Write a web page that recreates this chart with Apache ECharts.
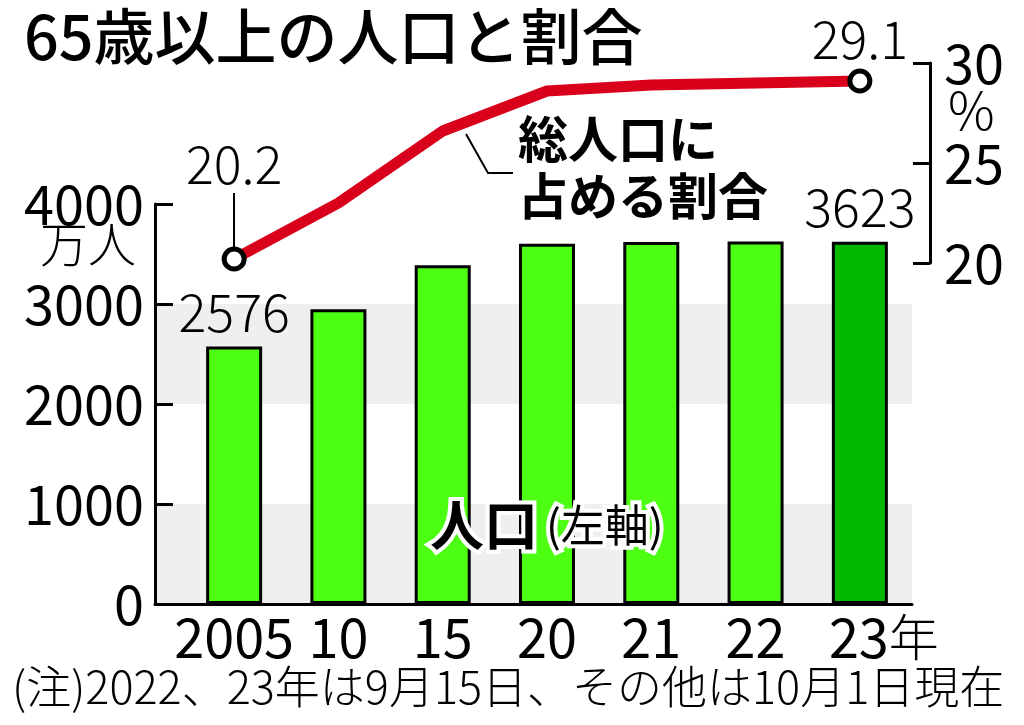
<!DOCTYPE html>
<html>
<head>
<meta charset="utf-8">
<script src="https://cdn.jsdelivr.net/npm/echarts@6/dist/echarts.min.js"></script>
<style>
  html, body { margin: 0; padding: 0; background: #fff; }
  #chart { width: 1024px; height: 725px; }
</style>
</head>
<body>
<div id="chart"></div>
<script>
const FONT = 'Noto Sans CJK JP';

// 年（2005年, 10年, ... 23年）
const years = ['2005', '10', '15', '20', '21', '22', '23'];
// 65歳以上の人口（万人）
const population = [2576, 2948, 3387, 3603, 3621, 3624, 3623];
// 総人口に占める割合（%）
const share = [20.2, 23.0, 26.6, 28.6, 28.9, 29.0, 29.1];

// axis ranges
const leftAxis = { min: 0, max: 4000, step: 1000 };
const rightAxis = { min: 20, max: 30, step: 5 };

const GREEN = '#4dff13';
const DARK_GREEN = '#00b800';
const RED = '#d8001b';

const chart = echarts.init(document.getElementById('chart'));

const last = years.length - 1;

const barData = population.map((v, i) => {
    const item = { value: v };
    if (i === last) item.itemStyle = { color: DARK_GREEN };
    if (i === 0 || i === last) item.label = { show: true };
    return item;
});

const lineData = share.map((v, i) => {
    const edge = i === 0 || i === last;
    return {
        value: v,
        symbol: edge ? 'circle' : 'none',
        label: { show: edge, distance: i === 0 ? 56 : 3 },
    };
});

const option = {
    animation: false,
    textStyle: { fontFamily: FONT },
    grid: [
        { left: 182, right: 112, top: 204, bottom: 121, outerBoundsMode: 'none' },
        { left: 155, right: 112, top: 204, bottom: 121, outerBoundsMode: 'none' },
        { left: 182, right: 112, top: 63, height: 200, outerBoundsMode: 'none' },
    ],
    xAxis: [
        {
            gridIndex: 0,
            type: 'category',
            data: years,
            axisLine: { show: false },
            axisTick: { show: false },
            axisLabel: {
                color: '#000',
                fontSize: 54,
                fontFamily: FONT,
                margin: 6,
                interval: 0,
                formatter: (v) => (v === years[last] ? '{p|}' + v + '{n|年}' : v),
                rich: {
                    p: { width: 48 },
                    n: { fontSize: 50, fontFamily: FONT, color: '#000', fontWeight: 300 },
                },
            },
        },
        {
            gridIndex: 1,
            type: 'value',
            min: 0,
            max: 1,
            axisLine: { show: true, lineStyle: { color: '#000', width: 3 } },
            axisTick: { show: false },
            axisLabel: { show: false },
            splitLine: { show: false },
        },
        {
            gridIndex: 2,
            type: 'category',
            data: years,
            show: false,
        },
    ],
    yAxis: [
        {
            gridIndex: 0,
            type: 'value',
            min: leftAxis.min,
            max: leftAxis.max,
            show: false,
        },
        {
            gridIndex: 1,
            type: 'value',
            min: leftAxis.min,
            max: leftAxis.max,
            interval: leftAxis.step,
            axisLine: { show: true, lineStyle: { color: '#000', width: 3 } },
            axisTick: { show: true, inside: true, length: 18, lineStyle: { color: '#000', width: 3 } },
            axisLabel: { color: '#000', fontSize: 54, fontFamily: FONT, margin: 11, formatter: (v) => String(v) },
            splitLine: { show: false },
            splitArea: { show: true, areaStyle: { color: ['#efefef', '#ffffff'] } },
        },
        {
            gridIndex: 2,
            type: 'value',
            position: 'right',
            offset: 18,
            min: rightAxis.min,
            max: rightAxis.max,
            interval: rightAxis.step,
            axisLine: { show: true, lineStyle: { color: '#000', width: 3 } },
            axisTick: { show: true, inside: true, length: 17, lineStyle: { color: '#000', width: 3 } },
            axisLabel: { color: '#000', fontSize: 54, fontFamily: FONT, margin: 14 },
            splitLine: { show: false },
        },
    ],
    series: [
        {
            type: 'bar',
            xAxisIndex: 0,
            yAxisIndex: 0,
            barWidth: 56,
            data: barData,
            itemStyle: { color: GREEN, borderColor: '#000', borderWidth: 3 },
            label: {
                show: false,
                position: 'top',
                distance: 8,
                color: '#000',
                fontSize: 52,
                fontWeight: 300,
                fontFamily: FONT,
            },
            z: 3,
        },
        {
            type: 'line',
            xAxisIndex: 2,
            yAxisIndex: 2,
            data: lineData,
            symbolSize: 20,
            lineStyle: { color: RED, width: 11 },
            itemStyle: { color: '#fff', borderColor: '#000', borderWidth: 5 },
            label: {
                position: 'top',
                color: '#000',
                fontSize: 52,
                fontWeight: 300,
                fontFamily: FONT,
                formatter: (p) => p.value.toFixed(1),
            },
            markLine: {
                silent: true,
                symbol: 'none',
                label: { show: false },
                lineStyle: { color: '#000', width: 2, type: 'solid' },
                data: [[{ coord: [years[0], 20.7] }, { coord: [years[0], 23.5] }]],
            },
            z: 5,
        },
    ],
    graphic: [
        {
            type: 'text',
            left: 24,
            top: 6,
            z: 100,
            style: { text: '65歳以上の人口と割合', fontSize: 61, fontWeight: 500, fontFamily: FONT, fill: '#000' },
        },
        {
            type: 'text',
            left: 40,
            top: 220,
            z: 100,
            style: { text: '万人', fontSize: 48, fontWeight: 300, fontFamily: FONT, fill: '#000' },
        },
        {
            type: 'text',
            left: 948,
            top: 84,
            z: 100,
            style: { text: '%', fontSize: 52, fontWeight: 300, fontFamily: FONT, fill: '#000' },
        },
        {
            type: 'text',
            left: 518,
            top: 110,
            z: 100,
            style: {
                text: '総人口に\n占める割合',
                fontSize: 50,
                lineHeight: 57,
                fontWeight: 'bold',
                fontFamily: FONT,
                fill: '#000',
            },
        },
        {
            type: 'polyline',
            z: 100,
            shape: { points: [[466, 134], [488, 173], [513, 173]] },
            style: { stroke: '#000', lineWidth: 2, fill: null },
        },
        {
            type: 'text',
            left: 426,
            top: 494,
            z: 100,
            style: {
                text: '{a|人口}{b|(左軸)}',
                rich: {
                    a: { fontSize: 54, fontWeight: 'bold', fontFamily: FONT, fill: '#000', padding: [0, 8, 0, 0] },
                    b: { fontSize: 44, fontFamily: FONT, fill: '#000' },
                },
                stroke: '#fff',
                lineWidth: 8,
            },
        },
        {
            type: 'text',
            left: 12,
            top: 664,
            z: 100,
            style: {
                text: '(注)2022、23年は9月15日、その他は10月1日現在',
                fontSize: 45,
                fontWeight: 300,
                fontFamily: FONT,
                fill: '#000',
            },
        },
    ],
};

chart.setOption(option);
</script>
</body>
</html>
